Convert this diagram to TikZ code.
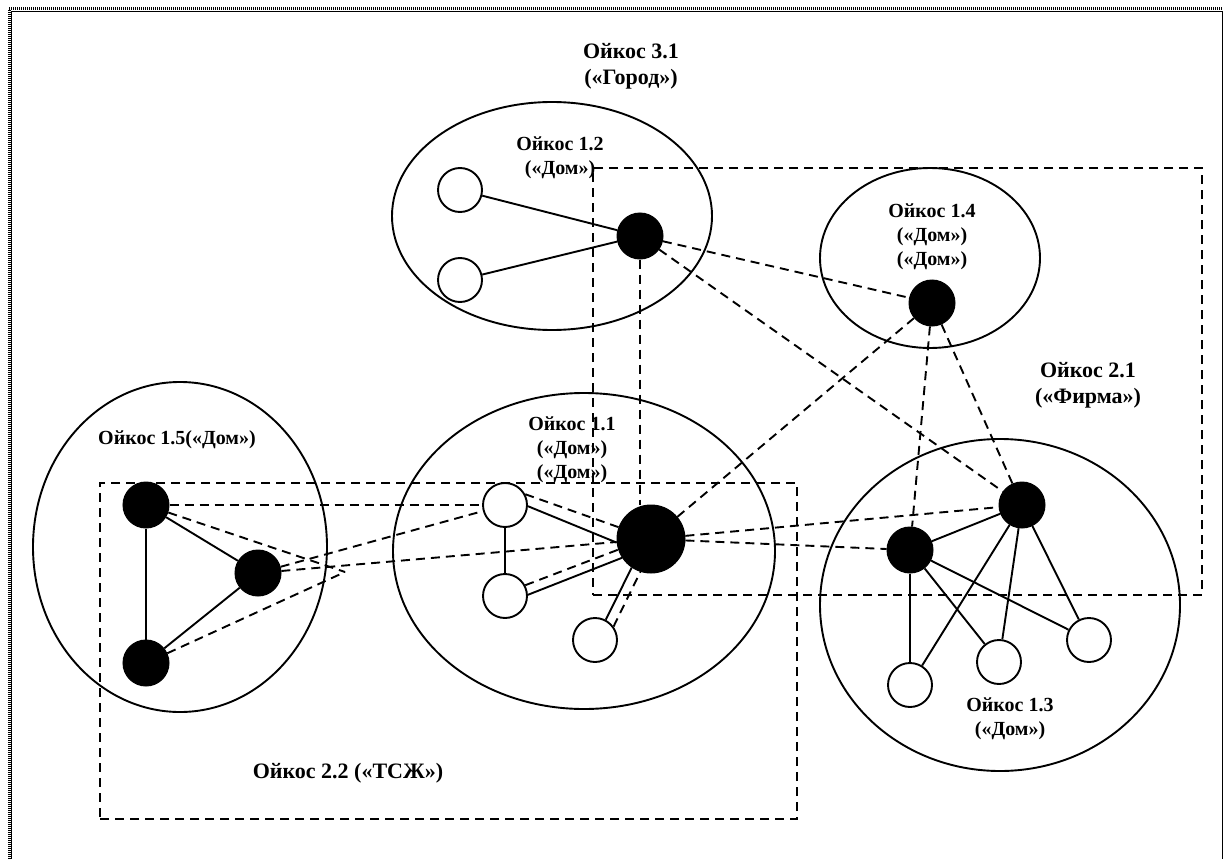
\documentclass[tikz,border=0pt]{standalone}
\usepackage{fontspec}
\setmainfont{Liberation Serif}
\usetikzlibrary{shapes.geometric}
\begin{document}
\begin{tikzpicture}[x=1pt,y=-1pt,
  oik/.style={draw, ellipse, line width=1.9pt, inner sep=0pt},
  grp/.style={draw, rectangle, line width=1.9pt, dash pattern=on 9pt off 6pt, inner sep=0pt},
  wnode/.style={draw, circle, fill=white, line width=1.9pt, minimum size=44pt, inner sep=0pt},
  bnode/.style={draw, circle, fill=black, line width=1pt, minimum size=46pt, inner sep=0pt},
  bignode/.style={draw, circle, fill=black, line width=1pt, minimum size=68pt, inner sep=0pt},
  sol/.style={line width=1.9pt},
  dsh/.style={line width=1.9pt, dash pattern=on 9pt off 6pt},
  lbl/.style={font=\fontsize{20}{24}\selectfont\bfseries, align=center, inner sep=0pt},
  lblb/.style={font=\fontsize{22}{26}\selectfont\bfseries, align=center, inner sep=0pt}]
\useasboundingbox (0,0) rectangle (1224,859);
% outer frame
\draw[line width=3pt, dash pattern=on 1pt off 1pt] (9,859) -- (9,9) -- (1222,9);
\draw[line width=1.2pt] (11.5,859) -- (11.5,11.5) -- (1222.5,11.5) -- (1222.5,859);
% oikos ellipses
\node[oik, minimum width=320pt, minimum height=228pt] (e12) at (552,216) {};
\node[oik, minimum width=220pt, minimum height=180pt] (e14) at (930,258) {};
\node[oik, minimum width=382pt, minimum height=316pt] (e11) at (584,551) {};
\node[oik, minimum width=294pt, minimum height=330pt] (e15) at (180,547) {};
\node[oik, minimum width=360pt, minimum height=332pt] (e13) at (1000,605) {};
% groups
\node[grp, minimum width=609pt, minimum height=427pt] (r21) at (897.5,381.5) {};
\node[grp, minimum width=697pt, minimum height=336pt] (r22) at (448.5,651) {};
% labels
\node[lblb] (t31) at (631,66) {Ойкос 3.1\\(«Город»)};
\node[lbl] (t12) at (560,158) {Ойкос 1.2\\(«Дом»)};
\node[lbl] (t14) at (932,237) {Ойкос 1.4\\(«Дом»)\\(«Дом»)};
\node[lbl] (t11) at (572,450) {Ойкос 1.1\\(«Дом»)\\(«Дом»)};
\node[lbl] (t15) at (177,440) {Ойкос 1.5(«Дом»)};
\node[lblb] (t21) at (1088,385) {Ойкос 2.1\\(«Фирма»)};
\node[lbl] (t13) at (1010,719) {Ойкос 1.3\\(«Дом»)};
\node[lblb] (t22) at (348,773) {Ойкос 2.2 («ТСЖ»)};
% members
\node[wnode] (w12a) at (460,190) {};
\node[wnode] (w12b) at (460,280) {};
\node[bnode] (b12) at (640,236) {};
\node[bnode] (b14) at (932,303) {};
\node[wnode] (w11a) at (505,505) {};
\node[wnode] (w11b) at (505,596) {};
\node[wnode] (w11c) at (595,640) {};
\node[bignode] (b11) at (651,539) {};
\node[bnode] (b15a) at (146,505) {};
\node[bnode] (b15b) at (258,573) {};
\node[bnode] (b15c) at (146,663) {};
\node[bnode] (A) at (1022,505) {};
\node[bnode] (B) at (910,550) {};
\node[wnode] (w13a) at (910,685) {};
\node[wnode] (w13b) at (999,662) {};
\node[wnode] (w13c) at (1089,640) {};
\coordinate (m) at (345,572);
% solid ties
\draw[sol] (w12a) -- (b12);
\draw[sol] (w12b) -- (b12);
\draw[sol] (w11a.-3) -- (b11.186);
\draw[sol] (w11a) -- (w11b);
\draw[sol] (w11b.3) -- (b11.213);
\draw[sol] (w11c.62) -- (b11.236);
\draw[sol] (b15a) -- (b15b);
\draw[sol] (b15b) -- (b15c);
\draw[sol] (b15a) -- (b15c);
\draw[sol] (B) -- (A);
\draw[sol] (B) -- (w13a);
\draw[sol] (B) -- (w13b);
\draw[sol] (B) -- (w13c);
\draw[sol] (A) -- (w13a);
\draw[sol] (A) -- (w13b);
\draw[sol] (A) -- (w13c);
% dashed ties
\draw[dsh] (b12) -- (b14);
\draw[dsh] (b12) -- (A);
\draw[dsh] (b12) -- (b12 |- b11.north);
\draw[dsh] (b11) -- (b14);
\draw[dsh] (b14) -- (B);
\draw[dsh] (b14) -- (A);
\draw[dsh] (b11) -- (A);
\draw[dsh] (b11) -- (B);
\draw[dsh] (w11a.28) -- (b11.160);
\draw[dsh] (w11b.28) -- (b11.198);
\draw[dsh] (w11c.36) -- (b11.252);
\draw[dsh] (b15a) -- (w11a);
\draw[dsh] (b15a) -- (m);
\draw[dsh] (b15c) -- (m);
\draw[dsh] (b15b) -- (w11a);
\draw[dsh] (b15b) -- (b11);
\end{tikzpicture}
\end{document}
